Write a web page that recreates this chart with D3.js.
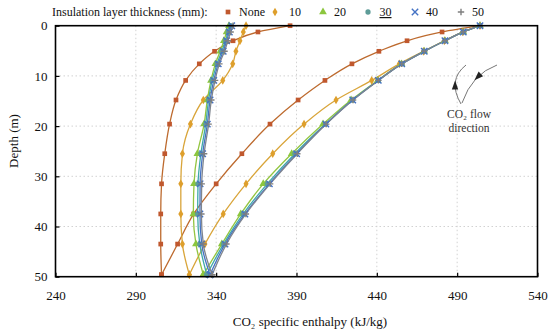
<!DOCTYPE html>
<html><head><meta charset="utf-8">
<script src="https://cdn.jsdelivr.net/npm/d3@7"></script>
<style>body{margin:0;background:#fff}svg{display:block}text{font-family:"Liberation Serif","Times New Roman",serif}</style>
</head><body><svg id="c" width="550" height="329"></svg>
<script>
// ---- data ----
const depths = [0, 1.25, 3, 5.1, 7.6, 10.9, 14.8, 19.6, 25.5, 31.5, 37.5, 43.5, 49.6];
const seriesNames = ["None", "10", "20", "30", "40", "50"];
const xTicks = [240, 290, 340, 390, 440, 490, 540];
const yTicks = [0, 10, 20, 30, 40, 50];
// down legs and up legs (both listed top -> bottom), kJ/kg at each depth
const noneDown = [386, 366, 350.5, 339, 329.5, 321, 315, 311, 308, 306, 305.5, 305.5, 306];
const noneUp   = [504.2, 480.6, 458.8, 441.3, 424.5, 407.7, 391, 373.5, 356, 340, 326, 316, 306];
const t10Down  = [358.6, 356.9, 354.8, 352.3, 350.3, 344.1, 332, 324, 319, 318, 318, 319, 323.3];
const t10Up    = [504.2, 493.5, 482, 469, 454, 436.8, 414.6, 394.7, 375.2, 358.6, 344.4, 333, 323.3];
const t20Down  = [348, 346.5, 344.8, 342.5, 339.5, 336.8, 334.5, 332.5, 328.3, 326.2, 325.8, 327.4, 332];
const t20Up    = [504.2, 493.8, 482.4, 469.5, 455.3, 440.5, 424, 406.5, 387, 369.3, 355.3, 343.5, 332];
const t30Down  = [349, 347.5, 345.8, 343.5, 340.5, 337.5, 335.3, 333.5, 330.5, 328.7, 328.5, 329.8, 334.2];
const t30Up    = [504.2, 493.8, 482.4, 469.5, 455.5, 440.8, 424.8, 408, 389, 371.8, 356.8, 344.6, 334.2];
const t40Down  = [349.7, 348.2, 346.5, 344.4, 341.3, 338.5, 336.2, 334.5, 331.6, 330, 329.9, 331, 336.2];
const t40Up    = [504.2, 493.8, 482.4, 469.5, 455.5, 440.9, 425, 408.3, 390.1, 373.1, 357.9, 345.5, 336.2];
const t50Down  = [350.5, 349, 347.3, 345.2, 342, 339.3, 337, 335.3, 332.5, 331, 330.8, 332, 337.5];
const t50Up    = [504.2, 493.8, 482.4, 469.5, 455.5, 441, 425.2, 408.5, 390.5, 373.6, 358.5, 346.4, 337.5];

const downLegs = [noneDown, t10Down, t20Down, t30Down, t40Down, t50Down];
const upLegs = [noneUp, t10Up, t20Up, t30Up, t40Up, t50Up];
const lineColors = ["#BD6A2E", "#D9A53A", "#93C540", "#3FA9A8", "#4472C4", "#7F858F"];
const markColors = ["#C0582E", "#DE9F2C", "#8CC63E", "#5E9C98", "#4472C4", "#7F7F7F"];
const symbols = [d3.symbolSquare, d3.symbolDiamond, d3.symbolTriangle, d3.symbolCircle];

// ---- chart ----
const svg = d3.select("#c");
const L = 55.5, R = 537.5, T = 25.7, B = 276.7;
const x = d3.scaleLinear().domain([240, 540]).range([L, R]);
const y = d3.scaleLinear().domain([0, 50]).range([T, B]);

// grid
const grid = svg.append("g").attr("stroke", "#d2d2d2").attr("stroke-width", 1).attr("stroke-dasharray", "1.5,2.5");
grid.selectAll(".gx").data(xTicks.slice(1, -1)).join("line")
  .attr("x1", d => x(d)).attr("x2", d => x(d)).attr("y1", T).attr("y2", B);
grid.selectAll(".gy").data(yTicks.slice(1, -1)).join("line")
  .attr("y1", d => y(d)).attr("y2", d => y(d)).attr("x1", L).attr("x2", R);

// axes
const ax = svg.append("g").attr("transform", `translate(0,${B})`)
  .call(d3.axisBottom(x).tickValues(xTicks).tickSizeInner(-4).tickSizeOuter(0).tickPadding(14));
const ay = svg.append("g").attr("transform", `translate(${L},0)`)
  .call(d3.axisLeft(y).tickValues(yTicks).tickSizeInner(-4).tickSizeOuter(0).tickPadding(8));
[ax, ay].forEach(g => {
  g.select(".domain").remove();
  g.selectAll(".tick line").attr("stroke", "#000").attr("stroke-width", 1.2);
  g.selectAll("text").attr("font-size", 13).attr("fill", "#111")
    .style("font-family", '"Liberation Serif", serif');
});

// series lines (each leg drawn from the data arrays)
const lineGen = d3.line().x(d => x(d[0])).y(d => y(d[1])).curve(d3.curveMonotoneY);
const plot = svg.append("g");
const legPts = (arr) => depths.map((d, k) => [arr[k], d]);
seriesNames.forEach((name, i) => {
  [legPts(downLegs[i]), legPts(upLegs[i])].forEach(pts => {
    plot.append("path").attr("d", lineGen(pts)).attr("fill", "none")
      .attr("stroke", lineColors[i]).attr("stroke-width", 1.3);
  });
});

// markers
function glyph(i, cx, cy) {
  const s = 3.2;
  if (i === 4) return `M${cx - s},${cy - s}L${cx + s},${cy + s}M${cx - s},${cy + s}L${cx + s},${cy - s}`;
  return `M${cx - s},${cy}L${cx + s},${cy}M${cx},${cy - s}L${cx},${cy + s}`;
}
seriesNames.forEach((name, i) => {
  const pts = legPts(downLegs[i]).concat(legPts(upLegs[i]));
  const g = plot.append("g");
  if (i < 4) {
    const sym = d3.symbol().type(symbols[i]).size(i === 2 ? 26 : 22)();
    g.selectAll("path").data(pts).join("path")
      .attr("transform", d => `translate(${x(d[0])},${y(d[1])})`)
      .attr("d", sym).attr("fill", markColors[i]);
  } else {
    g.attr("stroke", markColors[i]).attr("stroke-width", 1.4).attr("fill", "none");
    g.selectAll("path").data(pts).join("path").attr("d", d => glyph(i, x(d[0]), y(d[1])));
  }
});

// frame
svg.append("rect").attr("x", L).attr("y", T).attr("width", R - L).attr("height", B - T)
  .attr("fill", "none").attr("stroke", "#000").attr("stroke-width", 1.6);

// axis titles
svg.append("text").attr("x", 310).attr("y", 326).attr("text-anchor", "middle").attr("font-size", 13)
  .attr("fill", "#111").text("CO₂ specific enthalpy (kJ/kg)");
svg.append("text").attr("transform", "translate(18,141) rotate(-90)").attr("text-anchor", "middle")
  .attr("font-size", 13).attr("fill", "#111").text("Depth (m)");

// legend
const leg = svg.append("g");
leg.append("text").attr("x", 52).attr("y", 16).attr("font-size", 12).attr("fill", "#111")
  .text("Insulation layer thickness (mm):");
const legMarkX = [228, 275, 323, 368, 415, 461];
const legTextX = [239, 289, 334, 379.5, 426, 472];
seriesNames.forEach((name, i) => {
  const cx = legMarkX[i], cy = 12;
  if (i < 4) {
    leg.append("path").attr("transform", `translate(${cx},${cy})`)
      .attr("d", d3.symbol().type(symbols[i]).size(i === 2 ? 26 : 22)()).attr("fill", markColors[i]);
  } else {
    leg.append("path").attr("stroke", markColors[i]).attr("stroke-width", 1.4).attr("d", glyph(i, cx, cy));
  }
  const t = leg.append("text").attr("x", legTextX[i]).attr("y", 16).attr("font-size", 12)
    .attr("fill", "#111").text(name);
  if (name === "30") t.attr("text-decoration", "underline");
});

// annotation
const ann = svg.append("g");
const arrowPaths = [
  {d: "M461,104 Q447,80 466,65", t: 0.45},
  {d: "M497,65 Q472,74 462,103", t: 0.42}
];
arrowPaths.forEach(a => {
  const p = ann.append("path").attr("d", a.d).attr("fill", "none").attr("stroke", "#777").attr("stroke-width", 1);
  const node = p.node(), len = node.getTotalLength();
  const p0 = node.getPointAtLength(len * a.t), p1 = node.getPointAtLength(len * a.t + 1);
  const ang = Math.atan2(p1.y - p0.y, p1.x - p0.x) * 180 / Math.PI;
  ann.append("path").attr("d", "M5,0L-4,-3.2L-4,3.2Z").attr("fill", "#222")
    .attr("transform", `translate(${p0.x},${p0.y}) rotate(${ang})`);
});
ann.append("text").attr("x", 469).attr("y", 118).attr("text-anchor", "middle").attr("font-size", 11.5)
  .attr("fill", "#333").text("CO₂  flow");
ann.append("text").attr("x", 469).attr("y", 132).attr("text-anchor", "middle").attr("font-size", 11.5)
  .attr("fill", "#333").text("direction");
</script></body></html>
